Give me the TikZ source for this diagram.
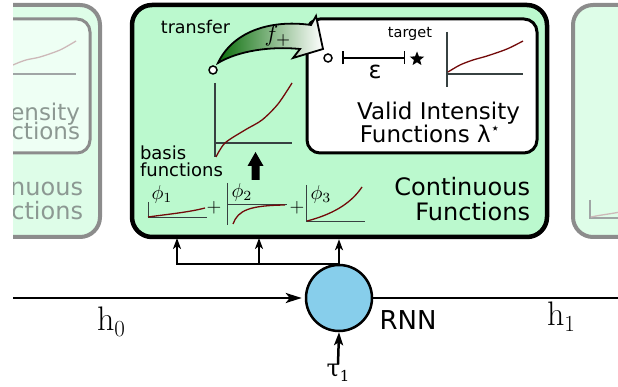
\documentclass[tikz,border=0pt]{standalone}
\usepackage{fontspec}
\setmainfont{DejaVu Sans}
\newfontfamily\dvserif{DejaVu Serif}
\newfontfamily\lmroman{Latin Modern Roman}
\usetikzlibrary{arrows.meta,shapes.geometric,calc}
\definecolor{pfill}{RGB}{187,249,206}
\definecolor{paxis}{RGB}{55,65,65}
\definecolor{pcurve}{RGB}{115,10,10}
\definecolor{rnnblue}{RGB}{135,206,235}
\definecolor{darkgr}{RGB}{10,110,10}
\definecolor{gborder}{RGB}{140,140,140}
\definecolor{gfill}{RGB}{222,253,232}
\definecolor{ginner}{RGB}{238,255,244}
\definecolor{gtext}{RGB}{140,152,146}
\definecolor{gaxis}{RGB}{160,165,165}
\definecolor{gcurve}{RGB}{205,185,185}
\newcommand{\fs}[2]{\fontsize{#1}{#2}\selectfont}
\tikzset{
  lbl/.style={inner sep=0pt, outer sep=0pt},
  mathlbl/.style={inner sep=0pt, outer sep=0pt, font=\fs{10}{10}, scale=#1, transform shape},
  axisline/.style={draw=paxis, line width=1.3pt},
  fcurve/.style={draw=pcurve, line width=1.3pt},
  conn/.style={line width=2pt, -{Stealth[length=11pt,width=8pt,inset=3pt]}},
  mainbox/.style={draw, line width=4.5pt, rounded corners=20pt, fill=pfill, inner sep=0pt},
  innerbox/.style={draw, line width=3pt, rounded corners=13pt, fill=white, inner sep=0pt},
  dot/.style={circle, draw, line width=1.5pt, fill=white, minimum size=8pt, inner sep=0pt},
}
\begin{document}
\begin{tikzpicture}[x=1pt,y=-1pt]
\useasboundingbox (0,0) rectangle (618,387);
% ghost panels
\begin{scope}
\clip (13,0) rectangle (618,387);
\path[draw=gborder, line width=4pt, rounded corners=20pt, fill=gfill] (-315,5) rectangle (100,237);
\path[draw=gborder, line width=3pt, rounded corners=13pt, fill=ginner] (-140,19) rectangle (90,153);
\draw[draw=gaxis, line width=1.3pt] (1,74) -- (76,74);
\draw[draw=gcurve, line width=1.3pt] plot[smooth] coordinates {(1,72) (13,65) (26,60) (40,57) (60,50) (76,41)};
\node[lbl, anchor=base east, text=gtext, font=\fs{23}{22}] (gl1) at (80,121) {Valid Intensity};
\node[lbl, anchor=base east, text=gtext, font=\fs{23}{22}] (gl2) at (80,140) {Functions};
\node[lbl, anchor=base east, text=gtext, font=\fs{24}{25}] (gl3) at (83,196) {Continuous};
\node[lbl, anchor=base east, text=gtext, font=\fs{24}{25}] (gl4) at (83,220) {Functions};
\path[draw=gborder, line width=4pt, rounded corners=20pt, fill=gfill] (573,5) rectangle (990,237);
\draw[draw=gaxis, line width=1.3pt] (590,200) -- (590,218) -- (640,218);
\draw[draw=gcurve, line width=1.3pt] (591,217) .. controls (600,215) and (610,214) .. (620,212);
\end{scope}
% main panel
\node[mainbox, minimum width=415pt, minimum height=232pt] (box) at (339.5,121) {};
\node[innerbox, minimum width=230pt, minimum height=134pt] (ibox) at (422,86) {};
% transfer arrow
\path[draw, line width=1.8pt, line join=miter, left color=darkgr, right color=white]
  (218,63) .. controls (232,33) and (268,19) .. (311,25) -- (316,16) -- (323,49) -- (293,58)
  -- (300,49) .. controls (270,46) and (238,51) .. (218,63) -- cycle;
\node[mathlbl=2.3] (fplus) at (278,36) {$f_+$};
\node[lbl, anchor=base, font=\fs{17.5}{18}] (transfer) at (195.5,34) {transfer};
\node[dot] (src) at (213,70) {};
% big basis plot
\draw[axisline] (215,83) -- (215,157);
\draw[axisline] (215,143) -- (292,143);
\draw[fcurve] plot[smooth] coordinates {(216,157) (225,143) (245,130) (262,120) (278,104) (292,83)};
\fill (255.5,152) -- (263.5,166) -- (259.5,166) -- (259.5,180) -- (251.5,180) -- (251.5,166) -- (247.5,166) -- cycle;
\node[lbl, anchor=base west, font=\fs{18}{18}] (basis1) at (140,160) {basis};
\node[lbl, anchor=base west, font=\fs{18}{18}] (basis2) at (140,177) {functions};
% phi plots
\draw[axisline, line width=1pt] (148,202) -- (148,218) -- (207,218);
\draw[fcurve] (148,217) .. controls (170,214) and (190,212) .. (205,208);
\node[mathlbl=2] (phi1) at (162,195) {$\phi_1$};
\node[mathlbl=1.9] (plus1) at (214,208) {$+$};
\draw[axisline, line width=1pt] (227,183) -- (227,225);
\draw[axisline, line width=1pt] (227,205) -- (287,205);
\draw[fcurve] (233,224) .. controls (238,210) and (250,205.5) .. (285,205);
\node[mathlbl=2] (phi2) at (242,193) {$\phi_2$};
\node[mathlbl=1.9] (plus2) at (297,208) {$+$};
\draw[axisline, line width=1pt] (306,185) -- (306,222) -- (365,222);
\draw[fcurve] (307,221) .. controls (330,215) and (350,205) .. (362,187);
\node[mathlbl=2] (phi3) at (321,195) {$\phi_3$};
\node[lbl, anchor=base east, font=\fs{24}{25}] (cf1) at (530,196) {Continuous};
\node[lbl, anchor=base east, font=\fs{24}{25}] (cf2) at (530,221) {Functions};
% inner box contents
\node[dot] (tsrc) at (328,58) {};
\coordinate (ea) at (342,58);
\coordinate (eb) at (405,58);
\draw[line width=1.5pt, {Bar[width=13pt]}-{Bar[width=13pt]}] (ea) -- (eb);
\node[star, star points=5, star point ratio=2.3, fill, minimum size=15pt, inner sep=0pt] (tgt) at (417,59) {};
\node[lbl, font=\fs{24}{24}] (eps) at (375,72) {ε};
\node[lbl, anchor=base, font=\fs{14.5}{15}] (target) at (410,38) {target};
\draw[axisline] (447,32) -- (447,87);
\draw[axisline] (447,74) -- (523,74);
\draw[fcurve] plot[smooth] coordinates {(448,72) (460,65) (473,60) (487,56) (507,49) (523,41)};
\node[lbl, anchor=base, font=\fs{23}{22}] (vif1) at (438.5,120) {Valid Intensity};
\node[lbl, anchor=base, font=\fs{23}{22}] (vif2) at (430,143) {Functions λ\raisebox{9pt}{\fs{15}{15}⋆}};
% RNN and connectors
\node[circle, draw, line width=2.5pt, fill=rnnblue, minimum size=66pt, inner sep=0pt] (rnn) at (339,298) {};
\node[lbl, font=\fs{26}{26}] (rnnl) at (408,320) {RNN};
\coordinate (t1) at (177,238);
\coordinate (t2) at (259,238);
\draw[conn] (rnn.north) -| (t1);
\draw[conn] (rnn.north) -| (t2);
\draw[conn] (rnn.north) -- (rnn.north |- box.south);
\coordinate (hl) at (13,298);
\coordinate (hr) at (618,298);
\draw[line width=2.5pt, -{Stealth[length=16pt,width=10pt,inset=4pt]}, shorten >=3pt] (hl) -- (rnn.west);
\draw[line width=2.5pt] (rnn.east) -- (hr);
\node[lbl, font=\lmroman\fs{34}{34}] (h0) at (111,322) {h\raisebox{-6pt}{\fs{23}{23}0}};
\node[lbl, font=\lmroman\fs{34}{34}] (h1) at (561,317) {h\raisebox{-6pt}{\fs{23}{23}1}};
\node[lbl, font=\dvserif\fs{24}{24}] (tau) at (338,373) {τ\raisebox{-5pt}{\fs{15}{15}1}};
\draw[line width=2.5pt, -{Stealth[length=13pt,width=9pt,inset=3pt]}] (tau.north) -- (rnn.south);
\end{tikzpicture}
\end{document}
